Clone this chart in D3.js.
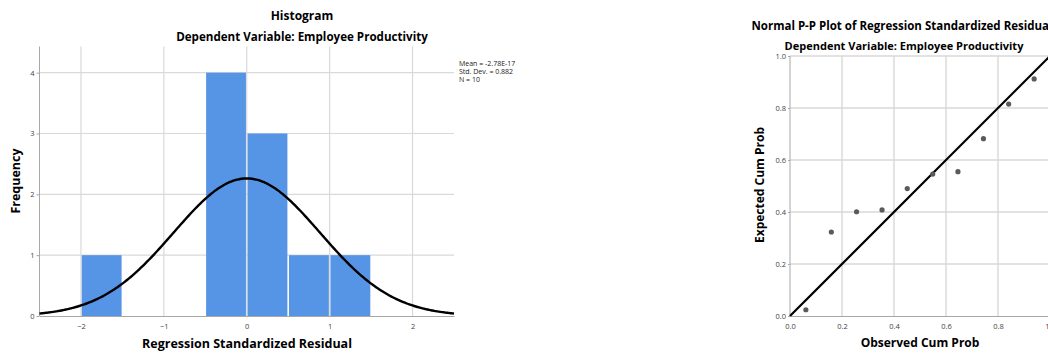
<!DOCTYPE html>
<html>
<head>
<meta charset="utf-8">
<script src="https://cdn.jsdelivr.net/npm/d3@7"></script>
<style>
  body { margin: 0; background: #fff; }
  text { font-family: "Open Sans", "Liberation Sans", sans-serif; }
</style>
</head>
<body>
<div id="container"></div>
<script>
// histogram data
let binLo = [-2.0, -0.5, 0.0, 0.5, 1.0];
let binHi = [-1.5, 0.0, 0.5, 1.0, 1.5];
let binCounts = [1, 4, 3, 1, 1];
let histXTicks = [-2, -1, 0, 1, 2];
let histYTicks = [0, 1, 2, 3, 4];
let residMean = -2.78e-17;
let residSD = 0.882;
let residN = 10;
let legendLines = ['Mean = -2.78E-17', 'Std. Dev. = 0.882', 'N = 10'];

// p-p plot data
let ppObserved = [0.061, 0.159, 0.256, 0.354, 0.451, 0.549, 0.646, 0.744, 0.841, 0.939];
let ppExpected = [0.024, 0.323, 0.401, 0.408, 0.490, 0.546, 0.555, 0.682, 0.815, 0.912];
let ppTicks = [0, 0.2, 0.4, 0.6, 0.8, 1.0];

let w = 1048;
let h = 354;
let gridColor = '#d9d9d9';
let axisColor = '#a8a8a8';
let barColor = '#5694e5';
let tickColor = '#444';

let svg = d3.select('#container')
  .append('svg')
    .attr('width', w)
    .attr('height', h)
    .style('background-color', '#fff');

// ---------- histogram ----------
let hx = d3.scaleLinear().domain([-2.5, 2.5]).range([39.5, 454]);
let hy = d3.scaleLinear().domain([0, 4.43]).range([316, 46.5]);

let hist = svg.append('g');

//grid
hist.selectAll('.hgrid').data(histYTicks.filter(d => d > 0)).enter()
  .append('line')
    .attr('x1', hx.range()[0]).attr('x2', hx.range()[1])
    .attr('y1', d => hy(d)).attr('y2', d => hy(d))
    .attr('stroke', gridColor).attr('stroke-width', 1.2);
hist.selectAll('.vgrid').data(histXTicks).enter()
  .append('line')
    .attr('x1', d => hx(d)).attr('x2', d => hx(d))
    .attr('y1', hy.range()[1]).attr('y2', hy.range()[0])
    .attr('stroke', gridColor).attr('stroke-width', 1.2);

//bars
hist.selectAll('.bar').data(binCounts).enter()
  .append('rect')
    .attr('x', (d, i) => hx(binLo[i]) + 0.8)
    .attr('width', (d, i) => hx(binHi[i]) - hx(binLo[i]) - 1.6)
    .attr('y', d => hy(d))
    .attr('height', d => hy(0) - hy(d))
    .attr('fill', barColor);

//axes
let hxAxis = d3.axisBottom(hx).tickValues(histXTicks).tickSize(0).tickPadding(8)
  .tickFormat(d => d < 0 ? '\u2212' + Math.abs(d) : d);
hist.append('g').attr('transform', 'translate(0,' + hy(0) + ')').call(hxAxis)
  .call(g => g.select('.domain').attr('stroke', axisColor))
  .call(g => g.selectAll('text').attr('fill', tickColor).style('font-size', '7.5px'));

let hyAxis = d3.axisLeft(hy).tickValues(histYTicks).tickSize(3).tickPadding(2).tickFormat(d3.format('d'));
hist.append('g').attr('transform', 'translate(' + hx.range()[0] + ',0)').call(hyAxis)
  .call(g => g.select('.domain').attr('stroke', axisColor).attr('d', 'M0,' + hy.range()[1] + 'V' + hy.range()[0]))
  .call(g => g.selectAll('line').attr('stroke', axisColor))
  .call(g => g.selectAll('text').attr('fill', tickColor).style('font-size', '7.5px'));

//normal curve from mean, sd, N
let binWidth = binHi[0] - binLo[0];
let curveX = d3.range(-2.5, 2.5001, 0.02);
let normal = x => residN * binWidth * Math.exp(-0.5 * Math.pow((x - residMean) / residSD, 2)) / (residSD * Math.sqrt(2 * Math.PI));
hist.append('path')
  .datum(curveX)
  .attr('d', d3.line().x(d => hx(d)).y(d => hy(normal(d))).curve(d3.curveBasis))
  .attr('fill', 'none')
  .attr('stroke', '#000')
  .attr('stroke-width', 2.4);

//legend
hist.selectAll('.legend').data(legendLines).enter()
  .append('text')
    .attr('x', 459)
    .attr('y', (d, i) => 66 + i * 8)
    .style('font-size', '7px')
    .attr('fill', '#222')
    .text(d => d);

//titles
hist.append('text').attr('x', 302).attr('y', 20).attr('text-anchor', 'middle')
  .style('font-size', '12px').style('font-weight', 'bold').text('Histogram');
hist.append('text').attr('x', 302).attr('y', 41).attr('text-anchor', 'middle')
  .style('font-size', '11.6px').style('font-weight', 'bold').text('Dependent Variable: Employee Productivity');
hist.append('text').attr('x', 247).attr('y', 348).attr('text-anchor', 'middle')
  .style('font-size', '12.5px').style('font-weight', 'bold').text('Regression Standardized Residual');
hist.append('text').attr('transform', 'translate(20,181) rotate(-90)').attr('text-anchor', 'middle')
  .style('font-size', '12.5px').style('font-weight', 'bold').text('Frequency');

// ---------- p-p plot ----------
let px = d3.scaleLinear().domain([0, 1]).range([790, 1050]);
let py = d3.scaleLinear().domain([0, 1]).range([316, 56]);

let pp = svg.append('g');

pp.selectAll('.hgrid').data(ppTicks.filter(d => d > 0)).enter()
  .append('line')
    .attr('x1', px.range()[0]).attr('x2', px.range()[1])
    .attr('y1', d => py(d)).attr('y2', d => py(d))
    .attr('stroke', gridColor).attr('stroke-width', 1.4);
pp.selectAll('.vgrid').data(ppTicks.filter(d => d > 0)).enter()
  .append('line')
    .attr('x1', d => px(d)).attr('x2', d => px(d))
    .attr('y1', py.range()[1]).attr('y2', py.range()[0])
    .attr('stroke', gridColor).attr('stroke-width', 1.4);

let pxAxis = d3.axisBottom(px).tickValues(ppTicks).tickSize(0).tickPadding(8).tickFormat(d3.format('.1f'));
pp.append('g').attr('transform', 'translate(0,' + py(0) + ')').call(pxAxis)
  .call(g => g.select('.domain').attr('stroke', axisColor))
  .call(g => g.selectAll('text').attr('fill', tickColor).style('font-size', '7.5px'));

let pyAxis = d3.axisLeft(py).tickValues(ppTicks).tickSize(2).tickPadding(2).tickFormat(d3.format('.1f'));
pp.append('g').attr('transform', 'translate(' + px.range()[0] + ',0)').call(pyAxis)
  .call(g => g.select('.domain').attr('stroke', axisColor).attr('d', 'M0,' + py.range()[1] + 'V' + py.range()[0]))
  .call(g => g.selectAll('line').attr('stroke', axisColor))
  .call(g => g.selectAll('text').attr('fill', tickColor).style('font-size', '7.5px'));

//diagonal reference line
pp.append('line')
  .attr('x1', px(0)).attr('y1', py(0))
  .attr('x2', px(1)).attr('y2', py(1))
  .attr('stroke', '#000').attr('stroke-width', 2.2);

//points
pp.selectAll('.pt').data(ppObserved).enter()
  .append('circle')
    .attr('cx', d => px(d))
    .attr('cy', (d, i) => py(ppExpected[i]))
    .attr('r', 2.6)
    .attr('fill', '#5a5a5a');

pp.append('text').attr('x', 902).attr('y', 30).attr('text-anchor', 'middle')
  .style('font-size', '11.5px').style('font-weight', 'bold').text('Normal P-P Plot of Regression Standardized Residual');
pp.append('text').attr('x', 904).attr('y', 49.5).attr('text-anchor', 'middle')
  .style('font-size', '11px').style('font-weight', 'bold').text('Dependent Variable: Employee Productivity');
pp.append('text').attr('x', 920).attr('y', 347).attr('text-anchor', 'middle')
  .style('font-size', '12px').style('font-weight', 'bold').text('Observed Cum Prob');
pp.append('text').attr('transform', 'translate(764,185) rotate(-90)').attr('text-anchor', 'middle')
  .style('font-size', '12px').style('font-weight', 'bold').text('Expected Cum Prob');
</script>
</body>
</html>
